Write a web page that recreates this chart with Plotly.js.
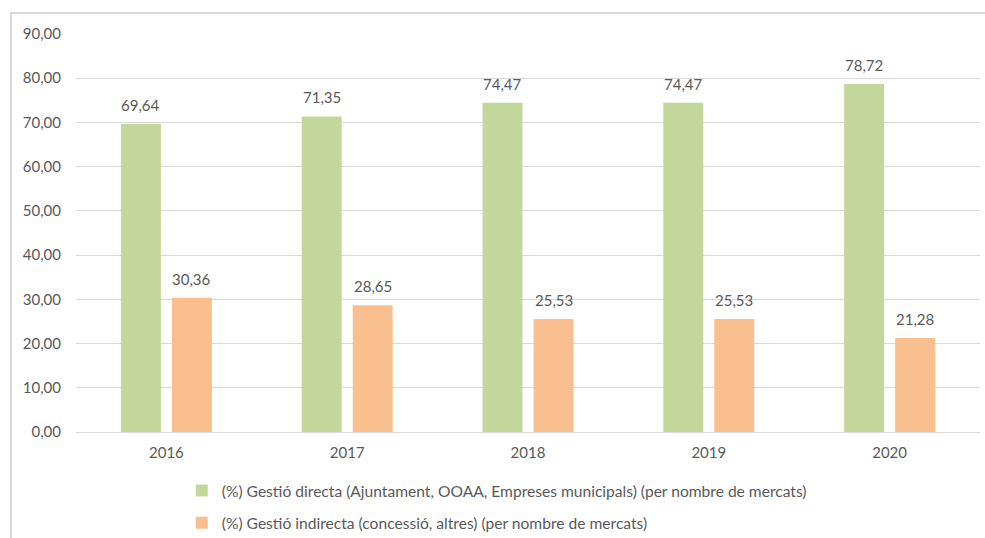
<!DOCTYPE html>
<html>
<head>
<meta charset="utf-8">
<script src="https://cdn.plot.ly/plotly-3.0.1.min.js"></script>
<style>
html,body{margin:0;padding:0;background:#fff;overflow:hidden;}
#frame{position:absolute;left:10px;top:12px;width:1000px;height:560px;border:2px solid #d9d9d9;box-sizing:border-box;}
#chart{position:absolute;left:0;top:0;width:985px;height:538px;}
</style>
</head>
<body>
<div id="frame"></div>
<div id="chart"></div>
<script>
const years = ['2016', '2017', '2018', '2019', '2020'];
const directa = [69.64, 71.35, 74.47, 74.47, 78.72];
const indirecta = [30.36, 28.65, 25.53, 25.53, 21.28];
const nameDirecta = '(%) Gestió directa (Ajuntament, OOAA, Empreses municipals) (per nombre de mercats)';
const nameIndirecta = '(%) Gestió indirecta (concessió, altres) (per nombre de mercats)';

const font = {family: 'Lato, "Open Sans", sans-serif', size: 15, color: '#595959'};
const legendFont = {family: 'Lato, "Open Sans", sans-serif', size: 15.6, color: '#595959'};

const traces = [
  {type: 'bar', x: years, y: directa, name: nameDirecta, legendgroup: 'a',
   marker: {color: '#c4d79b'}, hoverinfo: 'none'},
  {type: 'bar', x: years, y: indirecta, name: nameIndirecta, legendgroup: 'b',
   marker: {color: '#fabf8f'}, hoverinfo: 'none'}
];

const fmt = v => v.toFixed(2).replace('.', ',');
const annotations = [];
years.forEach((yr, i) => {
  annotations.push({x: i, y: directa[i], xref: 'x', yref: 'y', text: fmt(directa[i]), showarrow: false,
    xshift: -25.5, yshift: 8, yanchor: 'bottom', font: font});
  annotations.push({x: i, y: indirecta[i], xref: 'x', yref: 'y', text: fmt(indirecta[i]), showarrow: false,
    xshift: 25.5, yshift: 8, yanchor: 'bottom', font: font});
});

const layout = {
  width: 985, height: 538,
  paper_bgcolor: 'rgba(0,0,0,0)', plot_bgcolor: 'rgba(0,0,0,0)',
  margin: {l: 76, r: 5, t: 34, b: 106, autoexpand: false},
  separators: ',.',
  font: font,
  barmode: 'group', bargap: 0.436, bargroupgap: 0.216,
  xaxis: {type: 'category', range: [-0.5, years.length - 0.5], showline: false, ticks: '', tickfont: font,
          showgrid: false, zeroline: false, ticklabelstandoff: 10, automargin: false},
  yaxis: {range: [0, 90], dtick: 10, tickformat: '.2f', showgrid: true, gridcolor: '#d9d9d9', gridwidth: 1,
          zeroline: true, zerolinecolor: '#d9d9d9', zerolinewidth: 1, showline: false, ticks: '', tickfont: font,
          ticklabelstandoff: 14, automargin: false},
  annotations: annotations,
  showlegend: true,
  legend: {orientation: 'v', x: 0.117, xanchor: 'left', y: -0.105, yanchor: 'top', font: legendFont,
           tracegroupgap: 9, itemwidth: 30, bgcolor: 'rgba(0,0,0,0)'}
};

Plotly.newPlot('chart', traces, layout, {staticPlot: true, displayModeBar: false});
</script>
</body>
</html>
